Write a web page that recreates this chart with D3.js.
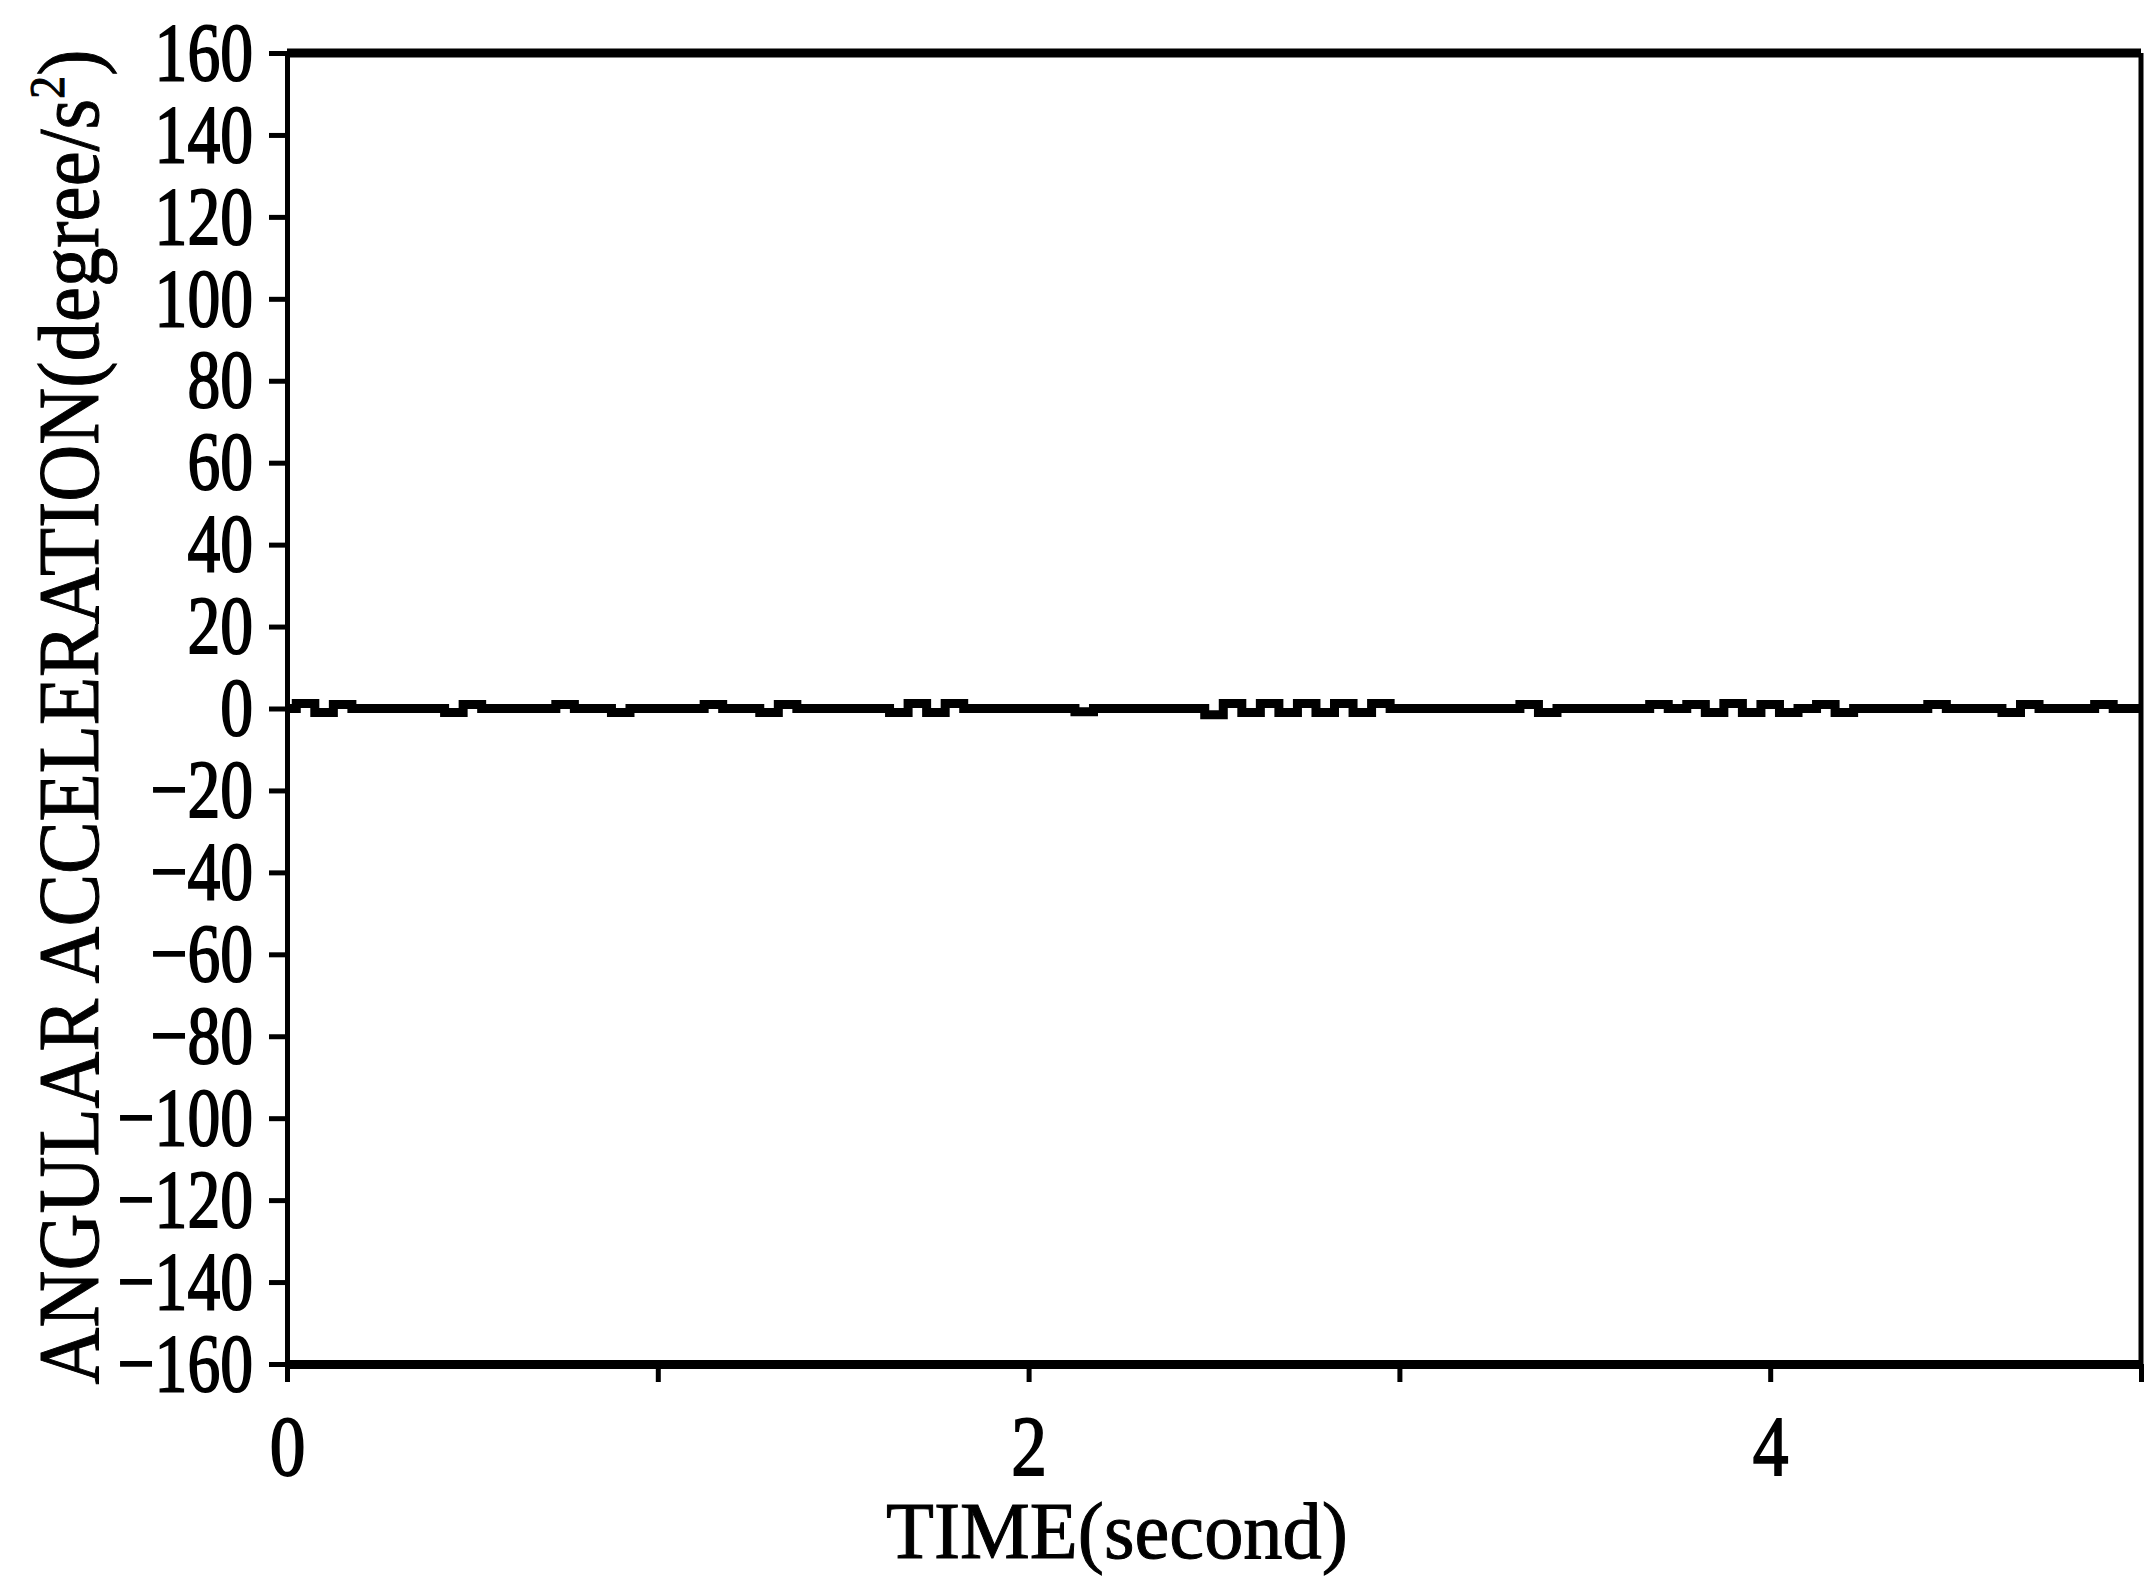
<!DOCTYPE html>
<html lang="en">
<head>
<meta charset="utf-8">
<title>Angular acceleration</title>
<script src="https://d3js.org/d3.v7.min.js"></script>
<style>
  body { margin: 0; background: #fff; }
  svg { display: block; }
</style>
</head>
<body>
<script>
const width = 2145;
const height = 1578;

// Data (0.05 s sampling)
const timeSec = [
  0, 0.05, 0.1, 0.15, 0.2, 0.25, 0.3, 0.35, 0.4, 0.45,
  0.5, 0.55, 0.6, 0.65, 0.7, 0.75, 0.8, 0.85, 0.9, 0.95,
  1, 1.05, 1.1, 1.15, 1.2, 1.25, 1.3, 1.35, 1.4, 1.45,
  1.5, 1.55, 1.6, 1.65, 1.7, 1.75, 1.8, 1.85, 1.9, 1.95,
  2, 2.05, 2.1, 2.15, 2.2, 2.25, 2.3, 2.35, 2.4, 2.45,
  2.5, 2.55, 2.6, 2.65, 2.7, 2.75, 2.8, 2.85, 2.9, 2.95,
  3, 3.05, 3.1, 3.15, 3.2, 3.25, 3.3, 3.35, 3.4, 3.45,
  3.5, 3.55, 3.6, 3.65, 3.7, 3.75, 3.8, 3.85, 3.9, 3.95,
  4, 4.05, 4.1, 4.15, 4.2, 4.25, 4.3, 4.35, 4.4, 4.45,
  4.5, 4.55, 4.6, 4.65, 4.7, 4.75, 4.8, 4.85, 4.9, 4.95,
  5
];
const angAccel = [
  0, 1.2, -1, 1, 0, 0, 0, 0, 0, -1,
  1, 0, 0, 0, 0, 1, 0, 0, -1, 0,
  0, 0, 0, 1, 0, 0, -1, 1, 0, 0,
  0, 0, 0, -1, 1.2, -1, 1.2, 0, 0, 0,
  0, 0, 0, -0.8, 0, 0, 0, 0, 0, 0,
  -1.5, 1.2, -1, 1.2, -1, 1.2, -1, 1.2, -1, 1.2,
  0, 0, 0, 0, 0, 0, 0, 1, -1, 0,
  0, 0, 0, 0, 1, 0, 1, -1, 1.2, -1,
  1, -1, 0, 1, -1, 0, 0, 0, 0, 1,
  0, 0, 0, -1, 1, 0, 0, 0, 1, 0,
  0
];

const xTicks = [0, 1, 2, 3, 4, 5];
const xTickLabels = [0, 2, 4];
const yTicks = [-160, -140, -120, -100, -80, -60, -40, -20, 0, 20, 40, 60, 80, 100, 120, 140, 160];

const fontFamily = '"Liberation Serif", "Times New Roman", serif';

const svg = d3.select("body")
  .append("svg")
  .attr("width", width)
  .attr("height", height);

//Scales
const xScale = d3.scaleLinear().domain([0, 5]).range([287, 2141]);
const yScale = d3.scaleLinear().domain([-160, 160]).range([1364, 53]);

//Axes
const bottomAxis = d3.axisBottom(xScale)
  .tickValues(xTicks)
  .tickSize(18)
  .tickSizeOuter(0)
  .tickPadding(33)
  .tickFormat(d => xTickLabels.includes(d) ? d : "");

const leftAxis = d3.axisLeft(yScale)
  .tickValues(yTicks)
  .tickSize(18)
  .tickSizeOuter(0)
  .tickPadding(18)
  .tickFormat(d => d < 0 ? "\u2212" + Math.abs(d) : d);

const gx = svg.append("g")
  .attr("transform", "translate(0," + yScale(-160) + ")")
  .call(bottomAxis)
  .attr("font-family", fontFamily)
  .attr("font-size", 84);
gx.select(".domain").attr("stroke-width", 9);
gx.selectAll(".tick line").attr("stroke-width", 5);
gx.selectAll(".tick text")
  .attr("transform", "scale(0.85,1)")
  .attr("stroke", "#000")
  .attr("stroke-width", 1.8);

const gy = svg.append("g")
  .attr("transform", "translate(" + xScale(0) + ",0)")
  .call(leftAxis)
  .attr("font-family", fontFamily)
  .attr("font-size", 82);
gy.select(".domain").attr("stroke-width", 5);
gy.selectAll(".tick line").attr("stroke-width", 5);
gy.selectAll(".tick text")
  .attr("transform", "scale(0.8,1)")
  .attr("x", -34 / 0.8)
  .attr("stroke", "#000")
  .attr("stroke-width", 1.8);

//Frame top and right
svg.append("line")
  .attr("x1", xScale(0)).attr("x2", xScale(5))
  .attr("y1", yScale(160)).attr("y2", yScale(160))
  .attr("stroke", "#000").attr("stroke-width", 9);
svg.append("line")
  .attr("x1", xScale(5)).attr("x2", xScale(5))
  .attr("y1", yScale(160)).attr("y2", yScale(-160))
  .attr("stroke", "#000").attr("stroke-width", 5);

//Line
const line = d3.line()
  .x((d, i) => xScale(timeSec[i]))
  .y(d => yScale(d))
  .curve(d3.curveStep);

svg.append("path")
  .datum(angAccel)
  .attr("d", line)
  .attr("fill", "none")
  .attr("stroke", "#000")
  .attr("stroke-width", 9);

//Labels (squeezed to the scan's width with a scale, not textLength)
const xLabel = svg.append("text")
  .attr("text-anchor", "middle")
  .attr("font-family", fontFamily)
  .attr("font-size", 80)
  .attr("stroke", "#000")
  .attr("stroke-width", 1)
  .text("TIME(second)");
const xLen = xLabel.node().getComputedTextLength();
xLabel.attr("transform", "translate(1117,1558) scale(" + (462 / xLen) + ",1)");

const yLabel = svg.append("text")
  .attr("text-anchor", "middle")
  .attr("font-family", fontFamily)
  .attr("font-size", 86)
  .attr("stroke", "#000")
  .attr("stroke-width", 1);
yLabel.append("tspan").text("ANGULAR  ACCELERATION(degree/s");
yLabel.append("tspan").attr("font-size", 50).attr("dy", -34).text("2");
yLabel.append("tspan").attr("dy", 34).text(")");
const yLen = yLabel.node().getComputedTextLength();
yLabel.attr("transform", "translate(98,717) rotate(-90) scale(" + (1335 / yLen) + ",1)");
</script>
</body>
</html>
